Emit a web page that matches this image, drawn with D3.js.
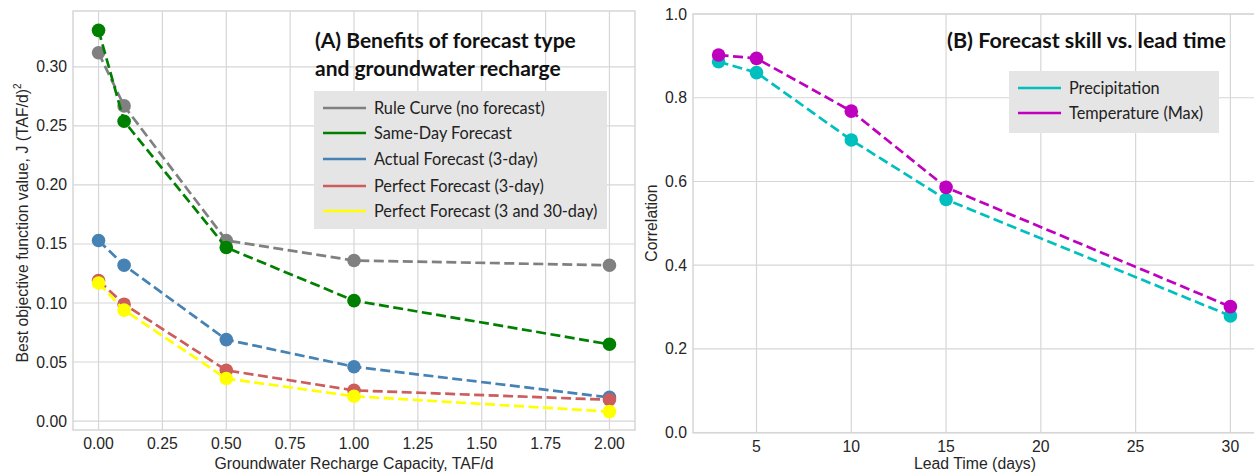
<!DOCTYPE html>
<html>
<head>
<meta charset="utf-8">
<script src="https://cdn.jsdelivr.net/npm/d3@7"></script>
<style>
  body { margin: 0; background: #fff; }
  svg text { font-family: "Liberation Sans", Arial, sans-serif; }
</style>
</head>
<body>
<div id="plot"></div>
<script>
// Panel A data
const rechargeCap = [0.0, 0.1, 0.5, 1.0, 2.0];
const ruleCurve   = [0.312, 0.267, 0.153, 0.136, 0.132];
const sameDay     = [0.331, 0.254, 0.147, 0.102, 0.065];
const actual3     = [0.153, 0.132, 0.069, 0.046, 0.020];
const perfect3    = [0.119, 0.099, 0.043, 0.026, 0.018];
const perfect330  = [0.117, 0.094, 0.036, 0.021, 0.008];
const seriesNamesA = ["Rule Curve (no forecast)", "Same-Day Forecast", "Actual Forecast (3-day)",
                      "Perfect Forecast (3-day)", "Perfect Forecast (3 and 30-day)"];
const coloursA = ["#808080", "#008000", "#4682b4", "#cd5c5c", "#ffff00"];
const ticksAx = [0, 0.25, 0.5, 0.75, 1.0, 1.25, 1.5, 1.75, 2.0];
const ticksAy = [0, 0.05, 0.10, 0.15, 0.20, 0.25, 0.30];

// Panel B data
const leadTime = [3, 5, 10, 15, 30];
const precipCorr = [0.886, 0.860, 0.699, 0.557, 0.279];
const tempCorr   = [0.902, 0.894, 0.768, 0.586, 0.301];
const seriesNamesB = ["Precipitation", "Temperature (Max)"];
const coloursB = ["#00bfbf", "#bf00bf"];
const ticksBx = [5, 10, 15, 20, 25, 30];
const ticksBy = [0, 0.2, 0.4, 0.6, 0.8, 1.0];

const W = 1254, H = 475;
const svg = d3.select("#plot").append("svg").attr("width", W).attr("height", H);

const gridColour = "#d6d6d6", textColour = "#262626";
const fs = 15.8;

function panel(opts) {
  const x = d3.scaleLinear().domain(opts.xDomain).range([opts.left, opts.right]);
  const y = d3.scaleLinear().domain(opts.yDomain).range([opts.bottom, opts.top]);
  const g = svg.append("g");

  // grid
  g.selectAll(".gx").data(opts.xTicks).enter().append("line")
    .attr("x1", d => x(d)).attr("x2", d => x(d))
    .attr("y1", opts.top).attr("y2", opts.bottom)
    .attr("stroke", gridColour).attr("stroke-width", 1.2);
  g.selectAll(".gy").data(opts.yTicks).enter().append("line")
    .attr("y1", d => y(d)).attr("y2", d => y(d))
    .attr("x1", opts.left).attr("x2", opts.right)
    .attr("stroke", gridColour).attr("stroke-width", 1.2);
  // frame
  g.append("rect").attr("x", opts.left).attr("y", opts.top)
    .attr("width", opts.right - opts.left).attr("height", opts.bottom - opts.top)
    .attr("fill", "none").attr("stroke", gridColour).attr("stroke-width", 1.5);

  // tick labels
  g.selectAll(".tx").data(opts.xTicks).enter().append("text")
    .attr("x", d => x(d)).attr("y", opts.bottom + 19)
    .attr("text-anchor", "middle").attr("font-size", fs).attr("fill", textColour)
    .text(opts.xFmt);
  g.selectAll(".ty").data(opts.yTicks).enter().append("text")
    .attr("x", opts.left - 6).attr("y", d => y(d) + 5.5)
    .attr("text-anchor", "end").attr("font-size", fs).attr("fill", textColour)
    .text(opts.yFmt);

  // series
  opts.series.forEach((vals, i) => {
    const pts = opts.xs.map((xv, j) => [xv, vals[j]]);
    g.append("path").datum(pts)
      .attr("d", d3.line().x(d => x(d[0])).y(d => y(d[1])))
      .attr("fill", "none").attr("stroke", opts.colours[i])
      .attr("stroke-width", 2.7).attr("stroke-dasharray", "10,4.5");
    g.selectAll(null).data(pts).enter().append("circle")
      .attr("cx", d => x(d[0])).attr("cy", d => y(d[1])).attr("r", 6.8)
      .attr("fill", opts.colours[i]);
  });
  return { x, y, g };
}

// ---- Panel A
const A = panel({
  left: 73, right: 635, top: 11, bottom: 430,
  xDomain: [-0.1, 2.1], yDomain: [-0.0076, 0.3474],
  xTicks: ticksAx, yTicks: ticksAy,
  xFmt: d3.format(".2f"), yFmt: d3.format(".2f"),
  xs: rechargeCap, series: [ruleCurve, sameDay, actual3, perfect3, perfect330],
  colours: coloursA
});

// ---- Panel B
const B = panel({
  left: 693, right: 1256, top: 14, bottom: 432.7,
  xDomain: [1.65, 31.35], yDomain: [0, 1],
  xTicks: ticksBx, yTicks: ticksBy,
  xFmt: d3.format("d"), yFmt: d3.format(".1f"),
  xs: leadTime, series: [precipCorr, tempCorr],
  colours: coloursB
});

// axis labels
svg.append("text").attr("x", 354).attr("y", 469).attr("text-anchor", "middle")
  .attr("font-size", fs).attr("fill", textColour).text("Groundwater Recharge Capacity, TAF/d");
svg.append("text").attr("transform", "translate(28,223) rotate(-90)").attr("text-anchor", "middle")
  .attr("font-size", fs).attr("fill", textColour)
  .text("Best objective function value, J (TAF/d)")
  .append("tspan").attr("dy", -7).attr("font-size", 10).text("2");
svg.append("text").attr("x", 975).attr("y", 469).attr("text-anchor", "middle")
  .attr("font-size", fs).attr("fill", textColour).text("Lead Time (days)");
svg.append("text").attr("transform", "translate(657,223) rotate(-90)").attr("text-anchor", "middle")
  .attr("font-size", fs).attr("fill", textColour).text("Correlation");

// titles
const titleFont = "Lato, 'Open Sans', sans-serif";
svg.append("text").attr("x", 315).attr("y", 48).attr("font-size", 21).attr("font-weight", "bold")
  .style("font-family", titleFont).attr("fill", "#111").text("(A) Benefits of forecast type");
svg.append("text").attr("x", 315).attr("y", 76).attr("font-size", 21).attr("font-weight", "bold")
  .style("font-family", titleFont).attr("fill", "#111").text("and groundwater recharge");
svg.append("text").attr("x", 947).attr("y", 48).attr("font-size", 21.5).attr("font-weight", "bold")
  .style("font-family", titleFont).attr("fill", "#111").text("(B) Forecast skill vs. lead time");

// legends
function legend(x0, y0, w, h, names, colours, rowY) {
  const g = svg.append("g");
  g.append("rect").attr("x", x0).attr("y", y0).attr("width", w).attr("height", h)
    .attr("fill", "#e5e5e5");
  names.forEach((n, i) => {
    g.append("line").attr("x1", x0 + 9).attr("x2", x0 + 52)
      .attr("y1", rowY[i]).attr("y2", rowY[i])
      .attr("stroke", colours[i]).attr("stroke-width", 2.7);
    g.append("text").attr("x", x0 + 60).attr("y", rowY[i] + 5.5)
      .attr("font-size", 16.3).style("font-family", titleFont).attr("fill", "#222").text(n);
  });
}
legend(314, 91, 293, 138, seriesNamesA, coloursA, [108, 133, 159, 186, 211]);
legend(1009, 71, 210, 62, seriesNamesB, coloursB, [88, 113]);
</script>
</body>
</html>
